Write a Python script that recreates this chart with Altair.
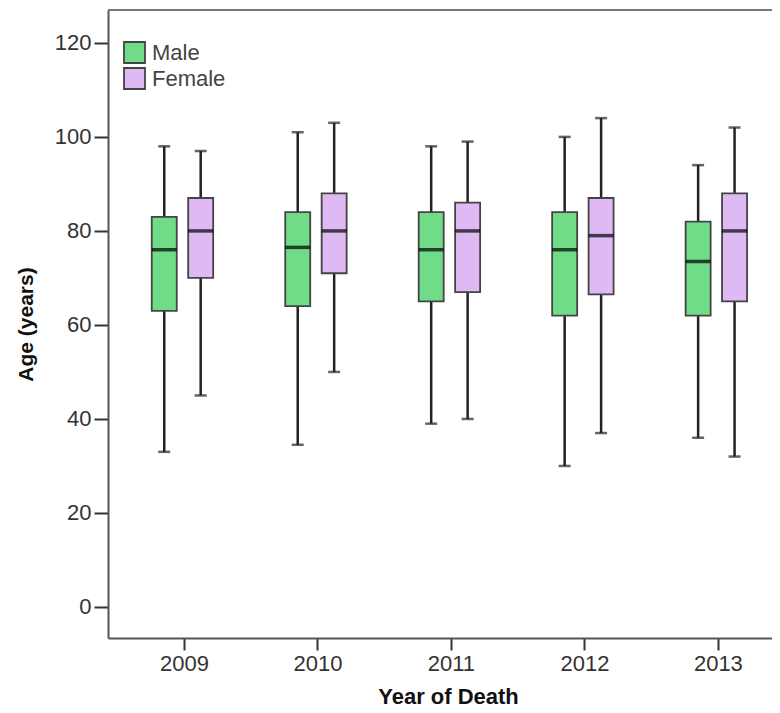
import altair as alt
import pandas as pd

years = [2009, 2010, 2011, 2012, 2013]

male_min = [33, 34.5, 39, 30, 36]
male_q1 = [63, 64, 65, 62, 62]
male_med = [76, 76.5, 76, 76, 73.5]
male_q3 = [83, 84, 84, 84, 82]
male_max = [98, 101, 98, 100, 94]

female_min = [45, 50, 40, 37, 32]
female_q1 = [70, 71, 67, 66.5, 65]
female_med = [80, 80, 80, 79, 80]
female_q3 = [87, 88, 86, 87, 88]
female_max = [97, 103, 99, 104, 102]

sexes = ["Male", "Female"]
colors = ["#70dc87", "#dfb9f3"]

rows = []
for sex, mn, q1, md, q3, mx in [
    ("Male", male_min, male_q1, male_med, male_q3, male_max),
    ("Female", female_min, female_q1, female_med, female_q3, female_max),
]:
    for i, yr in enumerate(years):
        rows.append(dict(year=yr, sex=sex, lo=mn[i], q1=q1[i], med=md[i], q3=q3[i], hi=mx[i]))
df = pd.DataFrame(rows)

W, H = 664, 628
FONT = "Liberation Sans"

xscale = alt.Scale(domain=[2008.468, 2013.368], nice=False, zero=False)
yscale = alt.Scale(domain=[-6.6, 127], nice=False, zero=False)

base = alt.Chart(df).transform_calculate(
    xpos="datum.year + (datum.sex === 'Male' ? -0.148 : 0.125)"
)

xenc = alt.X(
    "xpos:Q",
    scale=xscale,
    axis=alt.Axis(
        values=years, format="d", title="Year of Death", grid=False,
        tickSize=12, tickWidth=2, tickColor="#333", domainColor="#555", domainWidth=2,
        labelFontSize=22, labelColor="#333", labelPadding=3, labelFont=FONT,
        titleFont=FONT, titleFontSize=22, titleFontWeight="bold", titleColor="#111",
        titlePadding=12, titleX=340,
    ),
)
yaxis = alt.Axis(
    values=[0, 20, 40, 60, 80, 100, 120], title="Age (years)", grid=False,
    tickSize=14, tickWidth=2, tickColor="#333", domainColor="#555", domainWidth=2,
    labelFontSize=22, labelColor="#333", labelPadding=3, labelFont=FONT,
    titleFont=FONT, titleFontSize=21, titleFontWeight="bold", titleColor="#111",
    titlePadding=18,
)

WHISK = "#222"
whisk_lo = base.mark_rule(color=WHISK, strokeWidth=2.5).encode(
    x=xenc, y=alt.Y("lo:Q", scale=yscale, axis=yaxis), y2="q1:Q"
)
whisk_hi = base.mark_rule(color=WHISK, strokeWidth=2.5).encode(
    x="xpos:Q", y="q3:Q", y2="hi:Q"
)
cap_lo = base.mark_tick(orient="horizontal", size=12, thickness=2.5, color=WHISK).encode(
    x="xpos:Q", y="lo:Q"
)
cap_hi = base.mark_tick(orient="horizontal", size=12, thickness=2.5, color=WHISK).encode(
    x="xpos:Q", y="hi:Q"
)
boxes = base.mark_bar(size=25, stroke="#444", strokeWidth=1.8).encode(
    x="xpos:Q",
    y="q1:Q",
    y2="q3:Q",
    color=alt.Color(
        "sex:N",
        scale=alt.Scale(domain=sexes, range=colors),
        legend=alt.Legend(
            title=None, orient="none", legendX=15, legendY=31,
            symbolType="square", symbolSize=441, symbolStrokeColor="#444",
            symbolStrokeWidth=1.8, symbolOpacity=1,
            labelFont=FONT, labelFontSize=22, labelColor="#444",
            labelOffset=6, rowPadding=-3,
        ),
    ),
)
medians = base.mark_tick(orient="horizontal", size=25, thickness=3.5, color="#000").encode(
    x="xpos:Q", y="med:Q"
)
frame_top = alt.Chart(df).mark_rule(color="#777", strokeWidth=2).encode(
    x=alt.value(0), x2=alt.value(W), y=alt.value(0)
)

chart = (
    alt.layer(whisk_lo, whisk_hi, cap_lo, cap_hi, boxes, medians, frame_top)
    .properties(
        width=W, height=H,
        autosize=alt.AutoSizeParams(type="none"),
        padding={"left": 100, "top": 2, "right": 0, "bottom": 75},
    )
    .configure_view(stroke=None)
    .configure(background="white")
)

chart.save("out.html", embed_options={"renderer": "svg", "actions": False})
